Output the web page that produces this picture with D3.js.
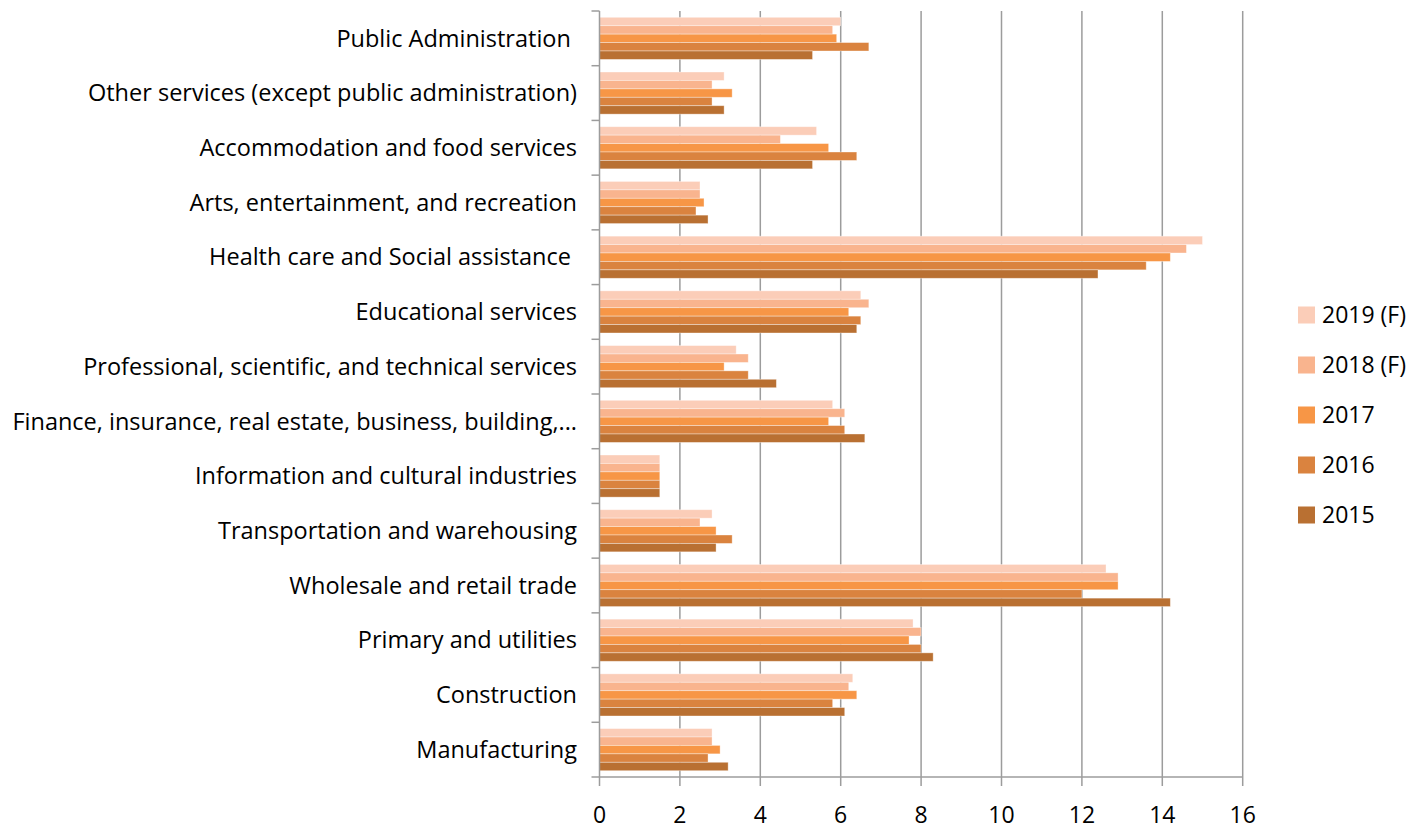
<!DOCTYPE html>
<html>
<head>
<meta charset="utf-8">
<script src="https://cdn.jsdelivr.net/npm/d3@7"></script>
<style>
  body { margin: 0; background: #fff; }
  text { font-family: "Open Sans", "Noto Sans", sans-serif; fill: #000; }
</style>
</head>
<body>
<svg width="1421" height="829"></svg>
<script>
// categories top to bottom
const categories = [
  "Public Administration ",
  "Other services (except public administration)",
  "Accommodation and food services",
  "Arts, entertainment, and recreation",
  "Health care and Social assistance ",
  "Educational services",
  "Professional, scientific, and technical services",
  "Finance, insurance, real estate, business, building,...",
  "Information and cultural industries",
  "Transportation and warehousing",
  "Wholesale and retail trade",
  "Primary and utilities",
  "Construction",
  "Manufacturing"
]

const seriesNames = ["2019 (F)", "2018 (F)", "2017", "2016", "2015"]
const seriesColors = ["#fbcdb8", "#f9b48e", "#f79646", "#da833f", "#b97032"]

const v2019 = [6.0, 3.1, 5.4, 2.5, 15.0, 6.5, 3.4, 5.8, 1.5, 2.8, 12.6, 7.8, 6.3, 2.8]
const v2018 = [5.8, 2.8, 4.5, 2.5, 14.6, 6.7, 3.7, 6.1, 1.5, 2.5, 12.9, 8.0, 6.2, 2.8]
const v2017 = [5.9, 3.3, 5.7, 2.6, 14.2, 6.2, 3.1, 5.7, 1.5, 2.9, 12.9, 7.7, 6.4, 3.0]
const v2016 = [6.7, 2.8, 6.4, 2.4, 13.6, 6.5, 3.7, 6.1, 1.5, 3.3, 12.0, 8.0, 5.8, 2.7]
const v2015 = [5.3, 3.1, 5.3, 2.7, 12.4, 6.4, 4.4, 6.6, 1.5, 2.9, 14.2, 8.3, 6.1, 3.2]
const seriesValues = [v2019, v2018, v2017, v2016, v2015]

const xTicks = [0, 2, 4, 6, 8, 10, 12, 14, 16]

const plotLeft = 599.5, plotRight = 1242.7, plotTop = 11, plotBottom = 777

const svg = d3.select("svg")

const x = d3.scaleLinear().domain([0, 16]).range([plotLeft, plotRight])

const y = d3.scaleBand()
  .domain(categories)
  .range([plotTop, plotBottom])
  .paddingInner(0.23)
  .paddingOuter(0.115)

const ySeries = d3.scaleBand()
  .domain(seriesNames)
  .range([0, y.bandwidth()])

// gridlines (extend a bit below the axis as ticks)
svg.append("g")
  .selectAll("line")
  .data(xTicks.slice(1))
  .enter()
  .append("line")
  .attr("x1", d => x(d)).attr("x2", d => x(d))
  .attr("y1", plotTop).attr("y2", plotBottom + 9)
  .attr("stroke", "#9c9c9c")
  .attr("stroke-width", 1.5)

// bars
const rows = svg.append("g")
  .selectAll("g")
  .data(categories)
  .enter()
  .append("g")
  .attr("transform", d => `translate(0,${y(d)})`)

rows.selectAll("rect")
  .data((c, i) => seriesNames.map((s, j) => ({ s, j, v: seriesValues[j][i] })))
  .enter()
  .append("rect")
  .attr("x", x(0))
  .attr("y", d => ySeries(d.s))
  .attr("width", d => x(d.v) - x(0))
  .attr("height", ySeries.bandwidth())
  .attr("fill", d => seriesColors[d.j])
  .attr("stroke", "rgba(255,255,255,0.45)")
  .attr("stroke-width", 0.8)

// left axis with boundary ticks
const bounds = d3.range(categories.length + 1).map(i => plotTop + i * (plotBottom - plotTop) / categories.length)
svg.append("g")
  .selectAll("line")
  .data(bounds)
  .enter()
  .append("line")
  .attr("x1", plotLeft - 8).attr("x2", plotLeft)
  .attr("y1", d => d).attr("y2", d => d)
  .attr("stroke", "#9c9c9c")
  .attr("stroke-width", 1.5)

svg.append("line")
  .attr("x1", plotLeft).attr("x2", plotLeft)
  .attr("y1", plotTop).attr("y2", plotBottom + 9)
  .attr("stroke", "#9c9c9c")
  .attr("stroke-width", 1.5)

// bottom axis
svg.append("line")
  .attr("x1", plotLeft).attr("x2", plotRight)
  .attr("y1", plotBottom).attr("y2", plotBottom)
  .attr("stroke", "#9c9c9c")
  .attr("stroke-width", 1.5)

svg.append("g")
  .selectAll("text")
  .data(xTicks)
  .enter()
  .append("text")
  .attr("x", d => x(d))
  .attr("y", 815)
  .attr("dy", "0.35em")
  .attr("text-anchor", "middle")
  .style("font-size", "23px")
  .text(d => d)

// category labels
svg.append("g")
  .selectAll("text")
  .data(categories)
  .enter()
  .append("text")
  .attr("x", 577)
  .attr("y", d => y(d) + y.bandwidth() / 2)
  .attr("dy", "0.35em")
  .attr("text-anchor", "end")
  .style("font-size", "23.5px")
  .style("white-space", "pre")
  .text(d => d)

// legend
const legend = svg.append("g")
  .selectAll("g")
  .data(seriesNames)
  .enter()
  .append("g")
  .attr("transform", (d, i) => `translate(1298,${315 + i * 50})`)

legend.append("rect")
  .attr("x", 0).attr("y", -8.5)
  .attr("width", 17).attr("height", 17)
  .attr("fill", (d, i) => seriesColors[i])

legend.append("text")
  .attr("x", 24)
  .attr("dy", "0.35em")
  .style("font-size", "23px")
  .text(d => d)
</script>
</body>
</html>
